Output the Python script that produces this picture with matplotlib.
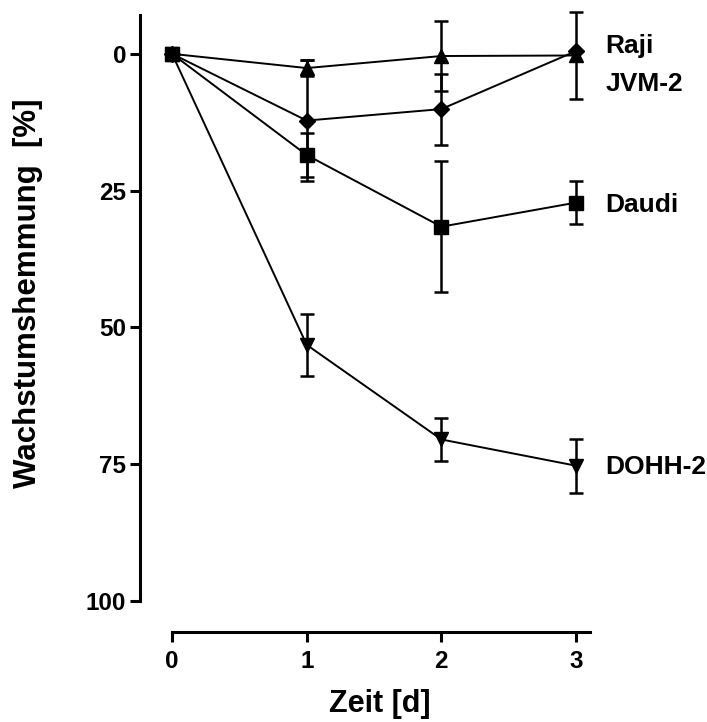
import numpy as np
import matplotlib.pyplot as plt

plt.rcParams['font.family'] = ['Liberation Sans', 'DejaVu Sans']
plt.rcParams['font.weight'] = 'bold'

days = [0, 1, 2, 3]

# Wachstumshemmung in % (Mittelwert und Fehler)
raji = [0, 2.6, 0.4, 0.3]
raji_err = [0, 1.5, 6.4, 7.9]
jvm2 = [0, 12.2, 10.1, -0.5]
jvm2_err = [0, 11.0, 6.5, 0]
daudi = [0, 18.5, 31.6, 27.2]
daudi_err = [0, 4.0, 12.0, 4.0]
dohh2 = [0, 53.2, 70.5, 75.3]
dohh2_err = [0, 5.7, 4.0, 4.9]

labels = ['Raji', 'JVM-2', 'Daudi', 'DOHH-2']
label_y = [-1.5, 5.5, 27.6, 75.6]

fig = plt.figure(figsize=(7.07, 7.22), dpi=100)
ax = fig.add_axes([140 / 707, 1 - 632 / 722, 450 / 707, 617 / 722])

series = [(raji, raji_err, '^', 10), (jvm2, jvm2_err, 'D', 8),
          (daudi, daudi_err, 's', 10), (dohh2, dohh2_err, 'v', 10)]
for vals, err, mk, ms in series:
    ax.errorbar(days, vals, yerr=err, color='black', marker=mk, markersize=ms,
                linewidth=1.4, elinewidth=1.8, capsize=5, capthick=1.8,
                clip_on=False, zorder=3)

for lab, yv in zip(labels, label_y):
    ax.text(3.22, yv, lab, fontsize=19, fontweight='bold', va='center', ha='left')

ax.set_xlim(-0.238, 3.104)
ax.set_ylim(105.7, -7.1)
ax.spines['top'].set_visible(False)
ax.spines['right'].set_visible(False)
ax.spines['left'].set_linewidth(2.2)
ax.spines['bottom'].set_linewidth(2.2)
ax.spines['left'].set_bounds(-7.1, 100)
ax.spines['bottom'].set_bounds(0, 3.104)

ax.set_xticks(days)
ax.set_yticks([0, 25, 50, 75, 100])
ax.tick_params(width=2.2, length=7, labelsize=17.5)
ax.tick_params(axis='y', pad=3)
ax.tick_params(axis='x', pad=6)
for t in ax.get_xticklabels() + ax.get_yticklabels():
    t.set_fontweight('bold')

ax.set_xlabel('Zeit [d]', fontsize=22, fontweight='bold')
ax.set_ylabel('Wachstumshemmung  [%]', fontsize=22.5, fontweight='bold')
ax.xaxis.set_label_coords(0.533, -0.093)
ax.yaxis.set_label_coords(-0.216, 0.549)

fig.savefig('out.png', dpi=100)
